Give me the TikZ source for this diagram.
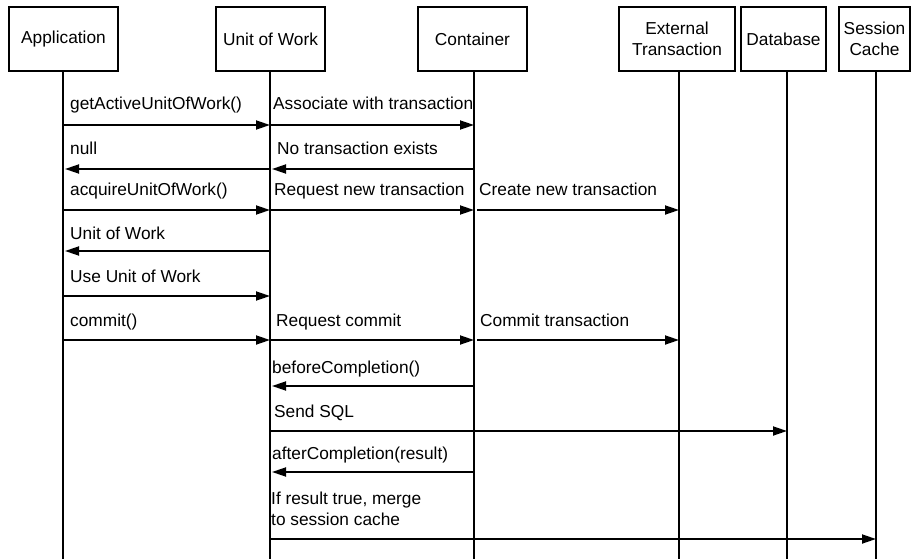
\documentclass[tikz,border=0pt]{standalone}
\usepackage{fontspec}
\setmainfont{Liberation Sans}
\usetikzlibrary{arrows.meta}
\begin{document}
\begin{tikzpicture}[x=1pt,y=-1pt,
  actor/.style={draw,line width=1.8pt,minimum height=64pt,inner sep=0pt,align=center,font=\fontsize{17.3}{21}\selectfont},
  life/.style={line width=1.8pt},
  msg/.style={line width=1.8pt,-{Triangle[length=14pt,width=9pt]}},
  lbl/.style={anchor=base west,inner sep=0pt,font=\fontsize{17.3}{21}\selectfont,align=left}]
\useasboundingbox (0,0) rectangle (916,559);
% actors
\node[actor,minimum width=109pt] (app) at (63.5,39) {Application};
\node[actor,minimum width=109pt] (uow) at (270.5,39) {Unit of Work};
\node[actor,minimum width=109pt] (con) at (472.5,39) {Container};
\node[actor,minimum width=116pt] (ext) at (677,39) {External\\Transaction};
\node[actor,minimum width=85pt] (db) at (783.5,39) {Database};
\node[actor,minimum width=71pt] (sc) at (874.5,39) {Session\\Cache};
% lifeline ends
\coordinate (appE) at (63,559);
\coordinate (uowE) at (270,559);
\coordinate (conE) at (474,559);
\coordinate (extE) at (679,559);
\coordinate (dbE) at (787,559);
\coordinate (scE) at (876,559);
\draw[life] (app.south -| appE) -- (appE);
\draw[life] (uow.south -| uowE) -- (uowE);
\draw[life] (con.south -| conE) -- (conE);
\draw[life] (ext.south -| extE) -- (extE);
\draw[life] (db.south -| dbE) -- (dbE);
\draw[life] (sc.south -| scE) -- (scE);
% message rows
\foreach \nm/\y in {r1/125,r2/169,r3/210,r4/251,r5/296,r6/340,r7/386,r8/431,r9/472,r10/539}{
  \coordinate (app\nm) at (63,\y);
  \coordinate (uow\nm) at (270,\y);
  \coordinate (con\nm) at (474,\y);
  \coordinate (ext\nm) at (679,\y);
  \coordinate (db\nm) at (787,\y);
  \coordinate (sc\nm) at (876,\y);
}
% row 1
\draw[msg] (appr1) -- (uowr1);
\node[lbl] (l1a) at (70,110) {getActiveUnitOfWork()};
\draw[msg] (uowr1) -- (conr1);
\node[lbl] (l1b) at (273,110) {Associate with transaction};
% row 2
\draw[msg] (uowr2) -- ([xshift=2pt]appr2);
\node[lbl] (l2a) at (70,155) {null};
\draw[msg] (conr2) -- ([xshift=2pt]uowr2);
\node[lbl] (l2b) at (277,155) {No transaction exists};
% row 3
\draw[msg] (appr3) -- (uowr3);
\node[lbl] (l3a) at (70,196) {acquireUnitOfWork()};
\draw[msg] (uowr3) -- (conr3);
\node[lbl] (l3b) at (274,196) {Request new transaction};
\draw[msg] ([xshift=3pt]conr3) -- (extr3);
\node[lbl] (l3c) at (479,196) {Create new transaction};
% row 4
\draw[msg] (uowr4) -- ([xshift=2pt]appr4);
\node[lbl] (l4a) at (70,239) {Unit of Work};
% row 5
\draw[msg] (appr5) -- (uowr5);
\node[lbl] (l5a) at (70,282) {Use Unit of Work};
% row 6
\draw[msg] (appr6) -- (uowr6);
\node[lbl] (l6a) at (70,326) {commit()};
\draw[msg] (uowr6) -- (conr6);
\node[lbl] (l6b) at (276,326) {Request commit};
\draw[msg] ([xshift=3pt]conr6) -- (extr6);
\node[lbl] (l6c) at (480,326) {Commit transaction};
% row 7
\draw[msg] (conr7) -- ([xshift=2pt]uowr7);
\node[lbl] (l7) at (272,373) {beforeCompletion()};
% row 8
\draw[msg] (uowr8) -- (dbr8);
\node[lbl] (l8) at (274,417) {Send SQL};
% row 9
\draw[msg] (conr9) -- ([xshift=2pt]uowr9);
\node[lbl] (l9) at (272,459) {afterCompletion(result)};
% row 10
\draw[msg] (uowr10) -- (scr10);
\node[lbl,anchor=north west] (l10) at (271,492) {If result true, merge\\to session cache};
\end{tikzpicture}
\end{document}
